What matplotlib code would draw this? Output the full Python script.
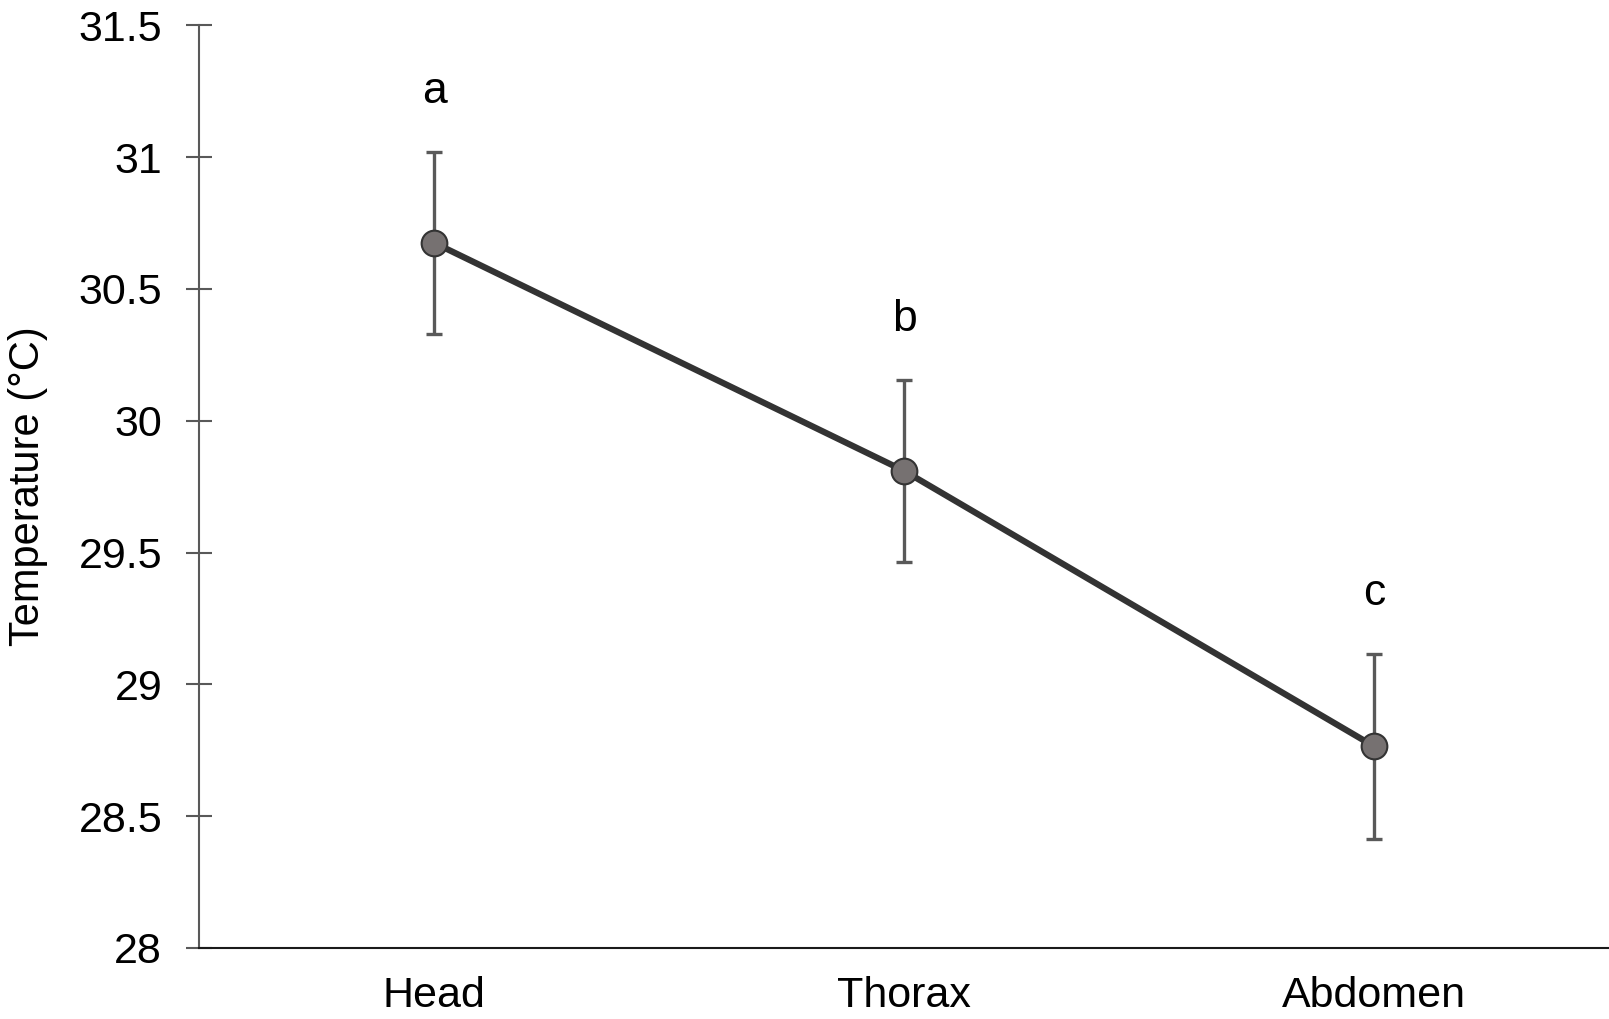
import matplotlib
matplotlib.use("Agg")
import matplotlib.pyplot as plt

categories = ["Head", "Thorax", "Abdomen"]
means = [30.675, 29.81, 28.765]
errors = [0.345, 0.345, 0.35]
letters = ["a", "b", "c"]
yticks = [28, 28.5, 29, 29.5, 30, 30.5, 31, 31.5]
ytick_labels = ["28", "28.5", "29", "29.5", "30", "30.5", "31", "31.5"]

plt.rcParams['font.family'] = ['Liberation Sans', 'DejaVu Sans']

fig = plt.figure(figsize=(16.09, 10.19), dpi=100)
ax = fig.add_axes([0.1237, 0.0697, 0.8763, 0.9055])

x = list(range(len(categories)))
ax.errorbar(x, means, yerr=errors, fmt='none', ecolor='#595959', elinewidth=2.4,
            capsize=5.5, capthick=2.4, zorder=2)
ax.plot(x, means, color='#333333', linewidth=4.5, zorder=3, solid_capstyle='butt')
ax.plot(x, means, linestyle='none', marker='o', markersize=18.5,
        markerfacecolor='#767171', markeredgecolor='#333333', markeredgewidth=1.5, zorder=4)

for xi, m, e, l in zip(x, means, errors, letters):
    ax.text(xi, m + e + 0.228, l, ha='center', va='center', fontsize=32, color='black')

ax.set_xlim(-0.5, 2.5)
ax.set_ylim(28, 31.5)
ax.set_xticks(x)
ax.set_xticklabels(categories, fontsize=31)
ax.set_yticks(yticks)
ax.set_yticklabels(ytick_labels, fontsize=31)
ax.tick_params(axis='x', length=0, pad=20)
ax.tick_params(axis='y', direction='inout', length=19, width=1.5, color='#595959', pad=17)

ax.set_ylabel("Temperature (°C)", fontsize=30, labelpad=22)

for s in ['top', 'right']:
    ax.spines[s].set_visible(False)
ax.spines['left'].set_color('#595959')
ax.spines['left'].set_linewidth(1.5)
ax.spines['bottom'].set_color('#1a1a1a')
ax.spines['bottom'].set_linewidth(1.5)

fig.savefig("out.png", dpi=100)
